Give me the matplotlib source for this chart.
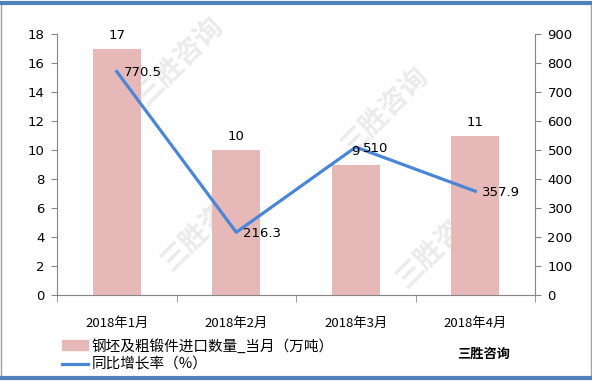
import numpy as np
import matplotlib.pyplot as plt
from matplotlib.lines import Line2D
from matplotlib.patches import Rectangle

plt.rcParams['font.family'] = ['DejaVu Sans', 'Noto Sans CJK SC']

# data
months = ['2018年1月', '2018年2月', '2018年3月', '2018年4月']
qty = [17, 10, 9, 11]            # 万吨
yoy = [770.5, 216.3, 510, 357.9]  # %
qty_labels = ['17', '10', '9', '11']
yoy_labels = ['770.5', '216.3', '510', '357.9']

bar_color = '#E6B9B8'
line_color = '#4A86D8'
axis_gray = '#868686'
cjk = ['Noto Sans CJK SC', 'DejaVu Sans']

fig = plt.figure(figsize=(5.92, 3.82), dpi=100)
ax = fig.add_axes([57 / 592, 1 - 295 / 382, (535 - 57) / 592, (295 - 34) / 382])
ax2 = ax.twinx()
ax.set_zorder(1)
ax2.set_zorder(2)

# watermarks (light, behind everything)
for (wx, wy) in [(180, 62), (385, 112), (205, 228), (440, 245)]:
    fig.text(wx / 592, 1 - wy / 382, '三胜咨询', fontfamily=cjk, fontsize=20,
             color='#ebebeb', rotation=45, ha='center', va='center', zorder=0,
             fontweight='bold')

x = np.arange(len(months))
ax.bar(x, qty, width=0.40, color=bar_color, zorder=2)
ax.set_xlim(-0.5, len(months) - 0.5)
ax.set_ylim(0, 18)
ax.set_yticks(np.arange(0, 19, 2))
ax2.set_ylim(0, 900)
ax2.set_yticks(np.arange(0, 901, 100))
ax.patch.set_visible(False)
ax2.patch.set_visible(False)

ax2.plot(x, yoy, color=line_color, lw=2.3, zorder=3)

for i, v in enumerate(qty):
    ax2.annotate(qty_labels[i], (x[i], v), xycoords=ax.transData, xytext=(0, 5),
                 textcoords='offset points', ha='center', va='bottom',
                 fontsize=9.5, zorder=5)
for i, v in enumerate(yoy):
    ax2.annotate(yoy_labels[i], (x[i], v), xytext=(5, -1), textcoords='offset points',
                 ha='left', va='center', fontsize=9.5, zorder=5)

# spines / ticks
for a in (ax, ax2):
    a.spines['top'].set_visible(False)
    for s in ('left', 'right', 'bottom'):
        a.spines[s].set_color(axis_gray)
    a.tick_params(axis='y', length=4, color=axis_gray, labelsize=9.5, pad=5)
ax.spines['right'].set_visible(False)
ax2.spines['left'].set_visible(False)
ax2.spines['bottom'].set_visible(False)

ax.set_xticks(x)
ax.set_xticklabels(months, fontfamily=cjk, fontsize=9.5)
ax.set_xticks(np.arange(-0.5, len(months)), minor=True)
ax.tick_params(axis='x', which='major', length=0, pad=16)
ax.tick_params(axis='x', which='minor', length=5, color=axis_gray)

# legend
leg_handles = [Rectangle((0, 0), 1, 1, color=bar_color),
               Line2D([0], [0], color=line_color, lw=2.3)]
fig.legend(leg_handles, ['钢坯及粗锻件进口数量_当月（万吨）', '同比增长率（%）'],
           loc='lower left', bbox_to_anchor=(52 / 592, 0.0), frameon=False,
           prop={'family': cjk, 'size': 10.5}, handlelength=1.75,
           handleheight=0.7, labelspacing=0.3, borderaxespad=0.3,
           handletextpad=0.25)

fig.text(457 / 592, 1 - 354 / 382, '三胜咨询', fontfamily=cjk, fontsize=9.5,
         fontweight='bold', ha='left', va='center')

# frame around figure
fig.patches.append(Rectangle((0.002, 0.01), 0.996, 0.982, transform=fig.transFigure,
                             fill=False, edgecolor='#a0a0a0', lw=1))
fig.lines.append(Line2D([0, 1], [0.993, 0.993], transform=fig.transFigure,
                        color='#4F81BD', lw=3))
fig.lines.append(Line2D([0, 1], [0.01, 0.01], transform=fig.transFigure,
                        color='#4F81BD', lw=3))

fig.savefig('out.png', dpi=100)
